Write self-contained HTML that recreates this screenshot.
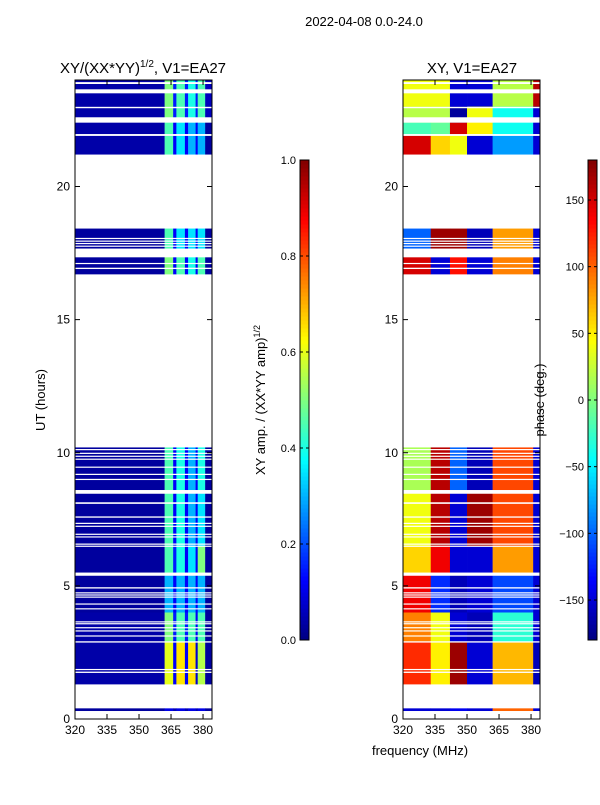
<!DOCTYPE html>
<html><head><meta charset="utf-8"><style>
body{margin:0;background:#fff;width:600px;height:800px;overflow:hidden;font-family:"Liberation Sans",sans-serif}
svg text{font-family:"Liberation Sans",sans-serif;fill:#000}
</style></head><body>
<svg id="fig" width="600" height="800" viewBox="0 0 600 800" xmlns="http://www.w3.org/2000/svg">
<text x="364" y="26" font-size="13" text-anchor="middle">2022-04-08 0.0-24.0</text>
<text x="143" y="73" font-size="15" text-anchor="middle">XY/(XX*YY)<tspan font-size="10" dy="-6">1/2</tspan><tspan dy="6">, V1=EA27</tspan></text>
<text x="472" y="73" font-size="15" text-anchor="middle">XY, V1=EA27</text>
<text transform="translate(45,400) rotate(-90)" font-size="13" text-anchor="middle">UT (hours)</text>
<text x="420" y="755" font-size="13" text-anchor="middle">frequency (MHz)</text>
<text transform="translate(265,400) rotate(-90)" font-size="13" text-anchor="middle">XY amp. / (XX*YY amp)<tspan font-size="9" dy="-5">1/2</tspan></text>
<g id="left"></g>
<g id="right"></g>
<g id="cb1"></g>
<g id="cb2"></g>
<text transform="translate(544,400) rotate(-90)" font-size="13" text-anchor="middle">phase (deg.)</text>
</svg>
<script>
const rowStart=[0.3,1.3,2.9,4.0,5.4,6.5,8.5,16.7,17.4,21.2,21.95,22.4,23.0];
const rowEnd  =[0.4,2.9,4.0,5.4,6.5,8.5,10.2,17.4,18.42,21.95,22.4,23.0,24.0];
const ampEdges=[320,362,366,367.5,371.5,373,376.5,377.5,381,384.2];
const ampRows=[
[0.03,0.1,0.05,0.1,0.05,0.1,0.05,0.1,0.03],
[0.04,0.6,0.12,0.65,0.12,0.65,0.08,0.55,0.03],
[0.04,0.5,0.15,0.45,0.15,0.45,0.12,0.45,0.03],
[0.03,0.3,0.12,0.3,0.12,0.3,0.12,0.3,0.03],
[0.03,0.45,0.15,0.4,0.12,0.35,0.12,0.5,0.03],
[0.03,0.45,0.12,0.4,0.12,0.3,0.12,0.35,0.03],
[0.03,0.45,0.12,0.4,0.12,0.3,0.12,0.4,0.03],
[0.03,0.5,0.12,0.45,0.12,0.4,0.12,0.45,0.03],
[0.03,0.45,0.12,0.35,0.12,0.35,0.12,0.35,0.03],
[0.04,0.45,0.12,0.35,0.12,0.3,0.12,0.3,0.03],
[0.04,0.45,0.12,0.35,0.12,0.3,0.12,0.3,0.03],
[0.04,0.5,0.15,0.45,0.15,0.4,0.15,0.45,0.06],
[0.04,0.5,0.15,0.45,0.15,0.4,0.15,0.45,0.06]];
const phaseEdges=[320,333,342,350,362,381,384.2];
const phaseRows=[
[-150,-150,-140,-150,100,-150],
[120,50,170,-150,70,-160],
[90,40,-150,-160,-30,-150],
[140,-120,-160,-150,-110,-150],
[60,140,-150,-150,80,-150],
[40,160,-150,170,110,-150],
[15,160,-100,-160,110,-150],
[150,-150,130,-150,90,-150],
[-100,170,170,-160,80,-150],
[150,60,40,-150,-80,-150],
[-20,-10,150,50,-40,-150],
[20,20,-170,40,-40,-150],
[40,40,-150,-150,20,160]];
const gapStart=[1.73,1.84,2.87,3.10,3.29,3.41,3.56,3.63,4.12,4.30,4.56,4.64,4.72,4.90,5.38,6.47,6.55,6.82,6.92,7.22,7.33,7.56,8.08,8.46,8.98,9.17,9.44,9.74,9.85,9.96,10.1,16.9,17.09,17.34,17.74,17.84,17.93,18.03,21.9,22.4,22.94,23.5,23.85];
const gapEnd  =[1.78,1.88,2.92,3.14,3.33,3.45,3.60,3.67,4.16,4.34,4.60,4.68,4.76,4.95,5.50,6.51,6.59,6.86,6.96,7.26,7.37,7.61,8.14,8.60,9.02,9.21,9.48,9.78,9.89,10.0,10.14,16.95,17.13,17.67,17.78,17.88,17.97,18.07,21.97,22.6,22.99,23.65,23.92];
const xTicks=[320,335,350,365,380];
const yTicks=[0,5,10,15,20];
const ampTicks=[0.0,0.2,0.4,0.6,0.8,1.0];
const phaseTicks=[-150,-100,-50,0,50,100,150];

const NS="http://www.w3.org/2000/svg";
function jet(v){v=Math.max(0,Math.min(1,v));
 const r=Math.max(0,Math.min(1,1.5-Math.abs(4*v-3))),g=Math.max(0,Math.min(1,1.5-Math.abs(4*v-2))),b=Math.max(0,Math.min(1,1.5-Math.abs(4*v-1)));
 return `rgb(${Math.round(r*255)},${Math.round(g*255)},${Math.round(b*255)})`;}
function mk(p,tag,a){const e=document.createElementNS(NS,tag);for(const k in a)e.setAttribute(k,a[k]);p.appendChild(e);return e;}
const Y0=719,Y1=80;
const yS=h=>Y0-(h/24)*(Y0-Y1);
function panel(g,x0,x1,edges,rows,norm,nm){
 const fmin=320,fmax=384.2;
 const xS=f=>x0+(f-fmin)/(fmax-fmin)*(x1-x0);
 for(let i=0;i<rowStart.length;i++){
  for(let j=0;j<edges.length-1;j++){
   const r=mk(g,'rect',{x:xS(edges[j]),y:yS(rowEnd[i]),width:xS(edges[j+1])-xS(edges[j])+0.3,height:yS(rowStart[i])-yS(rowEnd[i]),fill:jet(norm(rows[i][j]))});
   
   
  }
 }
 for(let i=0;i<gapStart.length;i++){
  const r=mk(g,'rect',{x:x0,y:yS(gapEnd[i]),width:x1-x0,height:Math.max(1.2,yS(gapStart[i])-yS(gapEnd[i])),fill:'#fff'});
  
  
 }
 const fr=mk(g,'rect',{x:x0,y:Y1,width:x1-x0,height:Y0-Y1,fill:'none',stroke:'#000','stroke-width':1});
 
 
 xTicks.forEach(t=>{const x=xS(t);
  mk(g,'line',{x1:x,x2:x,y1:Y0,y2:Y0-5,stroke:'#000'});mk(g,'line',{x1:x,x2:x,y1:Y1,y2:Y1+5,stroke:'#000'});
  const tx=mk(g,'text',{x:x,y:Y0+15,'font-size':12,'text-anchor':'middle'});tx.textContent=t;
  
  });
 yTicks.forEach(t=>{const y=yS(t);
  mk(g,'line',{x1:x0,x2:x0+5,y1:y,y2:y,stroke:'#000'});mk(g,'line',{x1:x1,x2:x1-5,y1:y,y2:y,stroke:'#000'});
  const tx=mk(g,'text',{x:x0-5,y:y+4,'font-size':12,'text-anchor':'end'});tx.textContent=t;
  
  });
}
panel(document.getElementById('left'),75,212,ampEdges,ampRows,v=>v,'amplitude');
panel(document.getElementById('right'),403,540,phaseEdges,phaseRows,v=>(v+180)/360,'phase');
function cbar(g,x,vmin,vmax,ticks,fmt){
 const top=160,bot=640,w=9;
 for(let i=0;i<120;i++){mk(g,'rect',{x:x,y:bot-(i+1)*(bot-top)/120,width:w,height:(bot-top)/120+0.5,fill:jet((i+0.5)/120)});}
 mk(g,'rect',{x:x,y:top,width:w,height:bot-top,fill:'none',stroke:'#000'});
 ticks.forEach(t=>{const y=bot-(t-vmin)/(vmax-vmin)*(bot-top);
  mk(g,'line',{x1:x,x2:x+3,y1:y,y2:y,stroke:'#000'});mk(g,'line',{x1:x+w,x2:x+w-3,y1:y,y2:y,stroke:'#000'});
  const tx=mk(g,'text',{x:x-4,y:y+4,'font-size':11,'text-anchor':'end'});tx.textContent=fmt(t);
  
  });
}
cbar(document.getElementById('cb1'),300,0,1,ampTicks,t=>t.toFixed(1));
cbar(document.getElementById('cb2'),588,-180,180,phaseTicks,t=>t<0?'\u2212'+(-t):String(t));
</script>
</body></html>
